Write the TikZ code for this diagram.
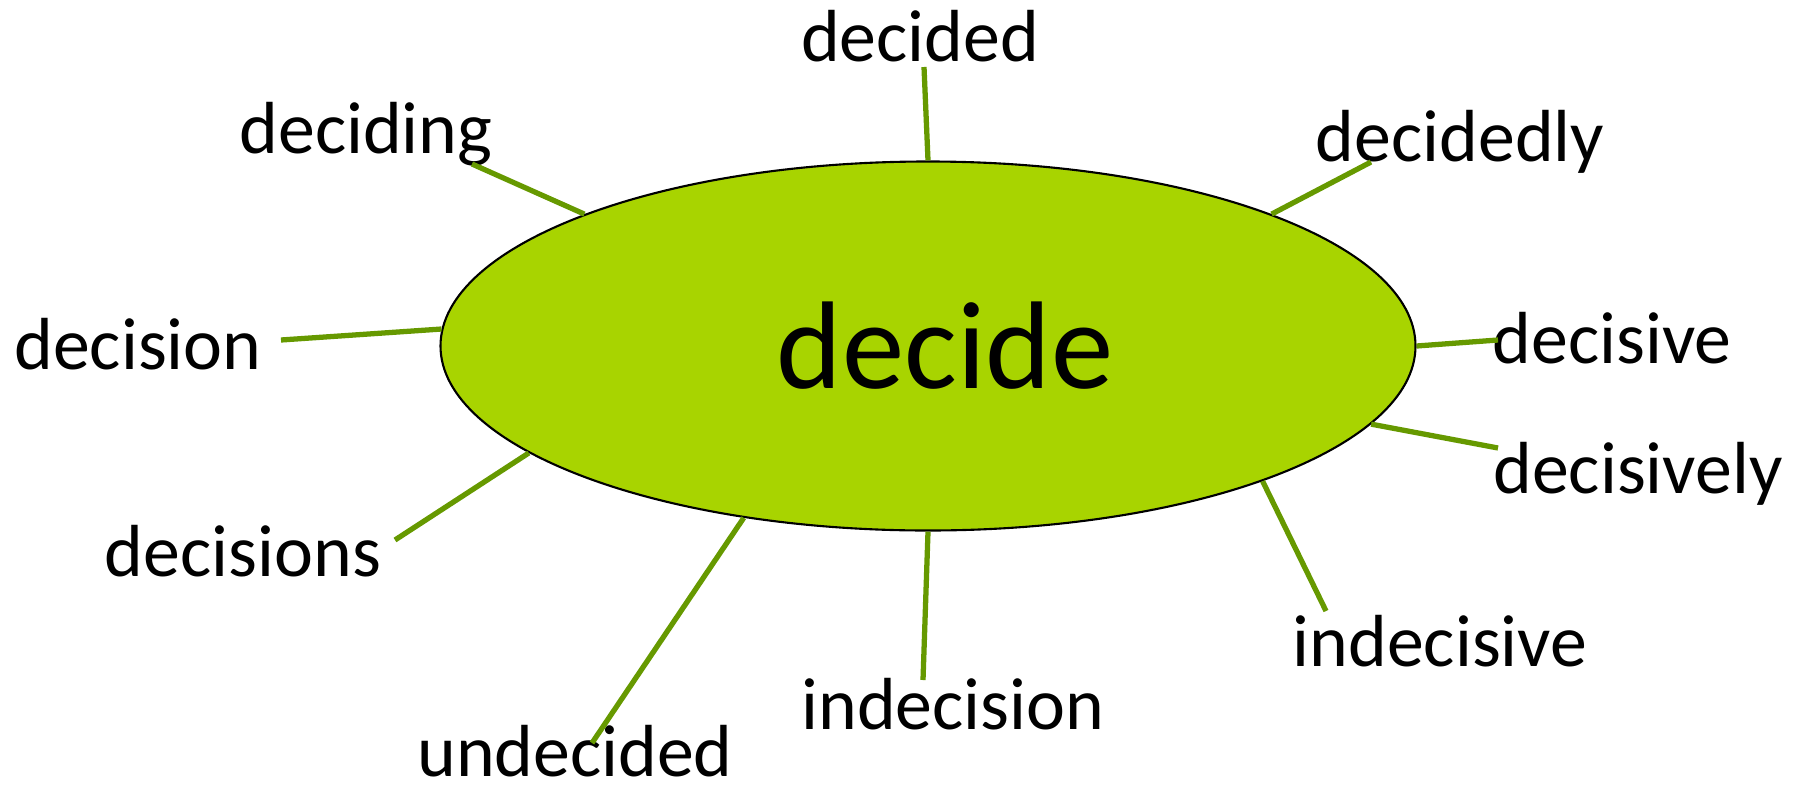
\documentclass[tikz,border=0pt]{standalone}
\usepackage{fontspec}
\setmainfont{Carlito}
\usepackage{tikz}
\usetikzlibrary{positioning, shapes.geometric}
\usepackage{color}
\definecolor{leafgreen}{RGB}{168,212,0}
\definecolor{stemgreen}{RGB}{102,153,0}

\begin{document}
\begin{tikzpicture}
    % Setup the styles for the word map
        \tikzset{root style/.style={ellipse,
                                    draw=black,
                                    line width=0.6pt,
                                    fill=leafgreen,
                                    minimum width=9.75cm,
                                    minimum height=3.69cm,
                                    inner sep=0pt,
                                    font=\fontsize{35.5}{40}\selectfont},
                 word style/.style={anchor=base,
                                    inner sep=0pt,
                                    font=\fontsize{21}{25}\selectfont}}
        \useasboundingbox (0,0) rectangle (18.07,-7.88);
        % Draw the root word
        \node[root style] at (9.28, -3.46) (decide) {\hspace*{0.34cm}decide};
        % Draw the derived words
        \node[word style] at (9.20, -0.61) (decided)     {decided};
        \node[word style] at (3.66, -1.53) (deciding)    {deciding};
        \node[word style] at (14.60, -1.61) (decidedly)  {decidedly};
        \node[word style] at (1.38, -3.69) (decision)    {decision};
        \node[word style] at (16.12, -3.63) (decisive)   {decisive};
        \node[word style] at (16.38, -4.93) (decisively) {decisively};
        \node[word style] at (2.43, -5.76) (decisions)   {decisions};
        \node[word style] at (14.40, -6.66) (indecisive) {indecisive};
        \node[word style] at (9.53, -7.29) (indecision)  {indecision};
        \node[word style] at (5.75, -7.76) (undecided)   {undecided};
        % Free ends of the links
        \coordinate (decided-end)    at (9.24, -0.67);
        \coordinate (deciding-end)   at (4.72, -1.64);
        \coordinate (decidedly-end)  at (13.71, -1.62);
        \coordinate (decision-end)   at (2.81, -3.40);
        \coordinate (decisive-end)   at (14.98, -3.40);
        \coordinate (decisively-end) at (14.98, -4.48);
        \coordinate (indecisive-end) at (13.26, -6.11);
        \coordinate (indecision-end) at (9.23, -6.80);
        \coordinate (undecided-end)  at (5.92, -7.43);
        \coordinate (decisions-end)  at (3.95, -5.40);
        % Connect the words with the root
        \draw[line width=1.5pt, draw=stemgreen]
            (decide.90)     edge (decided-end)
            (decide.159)    edge (deciding-end)
            (decide.21)     edge (decidedly-end)
            (decide.178.6)  edge (decision-end)
            (decide.0)      edge (decisive-end)
            (decide.-10)    edge (decisively-end)
            (decide.-22)    edge (indecisive-end)
            (decide.-90)    edge (indecision-end)
            (decide.-137.4) edge (undecided-end)
            (decide.-165)   edge (decisions-end);
\end{tikzpicture}
\end{document}
